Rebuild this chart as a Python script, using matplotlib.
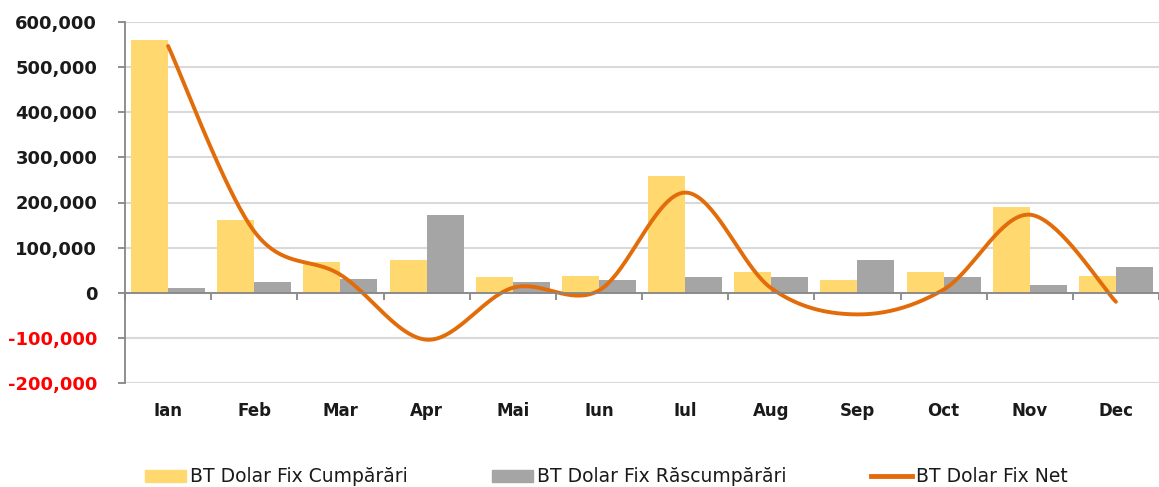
import numpy as np
import matplotlib
matplotlib.use("Agg")
import matplotlib.pyplot as plt
from matplotlib.patches import Patch
from matplotlib.lines import Line2D
from matplotlib.ticker import FuncFormatter

months = ["Ian", "Feb", "Mar", "Apr", "Mai", "Iun", "Iul", "Aug", "Sep", "Oct", "Nov", "Dec"]
cumparari = [560000, 162000, 69000, 73000, 36000, 38000, 258000, 47000, 29000, 45000, 191000, 38000]
rascumparari = [11000, 24000, 31000, 173000, 24000, 29000, 36000, 36000, 73000, 36000, 18000, 56000]
net = [547000, 136000, 40000, -104000, 11000, 5000, 222000, 10000, -48000, 7000, 173000, -20000]

YELLOW = "#FFD96F"
GRAY = "#A5A5A5"
ORANGE = "#E36C0A"
TXT = "#1a1a1a"


def excel_smooth(x, y, n=40):
    x = np.asarray(x, float)
    y = np.asarray(y, float)
    px = np.concatenate([[x[0]], x, [x[-1]]])
    py = np.concatenate([[y[0]], y, [y[-1]]])
    xs, ys = [], []
    t = np.linspace(0, 1, n)
    for i in range(1, len(px) - 2):
        p0 = np.array([px[i], py[i]])
        p3 = np.array([px[i + 1], py[i + 1]])
        p1 = p0 + (np.array([px[i + 1], py[i + 1]]) - np.array([px[i - 1], py[i - 1]])) / 6
        p2 = p3 - (np.array([px[i + 2], py[i + 2]]) - np.array([px[i], py[i]])) / 6
        b = ((1 - t) ** 3)[:, None] * p0 + (3 * (1 - t) ** 2 * t)[:, None] * p1 \
            + (3 * (1 - t) * t ** 2)[:, None] * p2 + (t ** 3)[:, None] * p3
        xs.extend(b[:, 0])
        ys.extend(b[:, 1])
    return np.array(xs), np.array(ys)


fig = plt.figure(figsize=(11.59, 4.87), dpi=100)
ax = fig.add_axes([125 / 1159, 1 - 383 / 487, 1 - 125 / 1159, 361 / 487])

x = np.arange(len(months))
w = 0.43
ax.bar(x - w / 2, cumparari, width=w, color=YELLOW, zorder=2)
ax.bar(x + w / 2, rascumparari, width=w, color=GRAY, zorder=2)

sx, sy = excel_smooth(x, net)
ax.plot(sx, sy, color=ORANGE, lw=2.8, solid_capstyle="round", zorder=3)

ax.set_xlim(-0.5, 11.5)
ax.set_ylim(-200000, 600000)
ax.set_yticks(np.arange(-200000, 600001, 100000))
ax.yaxis.set_major_formatter(FuncFormatter(lambda v, p: f"{int(v):,}"))
ax.grid(axis="y", color="#D9D9D9", lw=1.5, zorder=0)
ax.set_axisbelow(True)

for s in ["top", "right"]:
    ax.spines[s].set_visible(False)
ax.spines["left"].set_color("#868686")
ax.spines["left"].set_linewidth(1.3)
ax.spines["bottom"].set_position(("data", 0))
ax.spines["bottom"].set_color("#868686")
ax.spines["bottom"].set_linewidth(1.3)
ax.spines["bottom"].set_zorder(4)

ax.set_xticks(np.arange(-0.5, 12, 1))
ax.set_xticklabels([])
ax.tick_params(axis="x", direction="out", length=5, color="#868686", width=1.3)
ax.tick_params(axis="y", direction="out", length=5, color="#868686", width=1.3, pad=15)

for lab, v in zip(ax.get_yticklabels(), ax.get_yticks()):
    lab.set_fontsize(13)
    lab.set_fontweight("bold")
    lab.set_fontfamily("DejaVu Sans")
    lab.set_color("#FF0000" if v < 0 else TXT)

for i, m in enumerate(months):
    ax.text(i, -263000, m, ha="center", va="center", fontsize=12, fontweight="bold",
            color=TXT, family="DejaVu Sans")

handles = [Patch(color=YELLOW), Patch(color=GRAY), Line2D([0], [0], color=ORANGE, lw=3.5)]
labels = ["BT Dolar Fix Cumpărări", "BT Dolar Fix Răscumpărări", "BT Dolar Fix Net"]
fig.legend(handles, labels, loc="center left", bbox_to_anchor=(145 / 1159, 1 - 477 / 487),
           ncol=3, frameon=False, borderpad=0, borderaxespad=0,
           handlelength=2.19, handleheight=0.58, handletextpad=0.21,
           columnspacing=4.5, prop={"family": "DejaVu Sans", "size": 13.5})
for t in fig.legends[0].get_texts():
    t.set_color(TXT)

fig.savefig("out.png", dpi=100)
